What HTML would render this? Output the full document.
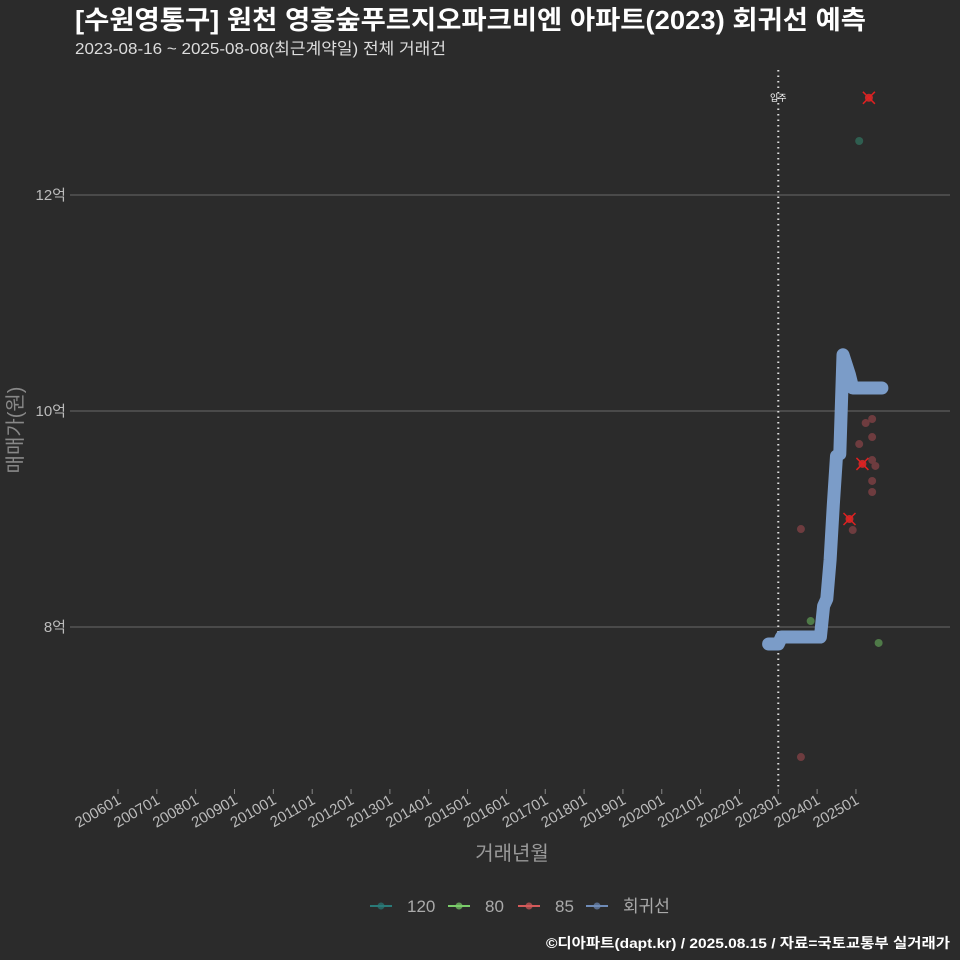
<!DOCTYPE html>
<html><head><meta charset="utf-8"><style>
body{margin:0;background:#2b2b2b;}
svg{display:block;font-family:"Liberation Sans","Noto Sans CJK KR",sans-serif;}
</style></head><body>
<svg id="chart" width="960" height="960" viewBox="0 0 960 960">
<rect width="960" height="960" fill="#2b2b2b"/>
<text x="75" y="29" fill="#fff" font-size="26" font-weight="bold" textLength="791" lengthAdjust="spacingAndGlyphs">[수원영통구] 원천 영흥숲푸르지오파크비엔 아파트(2023) 회귀선 예측</text>
<text x="75" y="54" fill="#ddd" font-size="16" textLength="371" lengthAdjust="spacingAndGlyphs">2023-08-16 ~ 2025-08-08(최근계약일) 전체 거래건</text>
<g id="grid"></g><g id="yaxis"></g><g id="xaxis"></g><g id="marks"></g>
<text transform="translate(22,430) rotate(-90)" text-anchor="middle" fill="#888" font-size="20">매매가(원)</text>
<text x="512" y="860" text-anchor="middle" fill="#999" font-size="20">거래년월</text>
<g id="legend"></g>
<text x="950" y="948" text-anchor="end" fill="#fff" font-size="14" font-weight="bold" textLength="404" lengthAdjust="spacingAndGlyphs">©디아파트(dapt.kr) / 2025.08.15 / 자료=국토교통부 실거래가</text>
</svg>
<script>
const yTicks=[80000,100000,120000];
const yTickLabels=["8억","10억","12억"];
const xTickYears=[2006,2007,2008,2009,2010,2011,2012,2013,2014,2015,2016,2017,2018,2019,2020,2021,2022,2023,2024,2025];
const moveInYm="2023-01";
const pts120Dates=["2025-02"];
const pts120Vals=[125000];
const pts80Dates=["2023-11","2025-08"];
const pts80Vals=[80550,78520];
const pts85Dates=["2023-08","2023-08","2024-12","2025-02","2025-04","2025-06","2025-06","2025-06","2025-07","2025-06","2025-06"];
const pts85Vals=[89070,67960,88980,96940,98890,99260,97590,95460,94910,93520,92500];
const cross85Dates=["2025-05","2025-03","2024-11"];
const cross85Vals=[129000,95100,90000];
const regDates=["2022-10","2023-01","2023-02","2024-02","2024-03","2024-04","2024-05","2024-06","2024-07","2024-08","2024-09","2024-10","2024-11","2024-12","2025-01","2025-09"];
const regVals=[78425,78425,79070,79070,81940,82600,86200,91300,95830,96020,105200,104260,103330,102130,102130,102130];

const NS="http://www.w3.org/2000/svg";
function el(t,a,p){const e=document.createElementNS(NS,t);for(const k in a)e.setAttribute(k,a[k]);document.getElementById(p).appendChild(e);return e;}
function xs(ym){const [y,m]=ym.split("-").map(Number);return 118+((y-2006)+(m-1)/12)*38.84;}
function ys(v){return 411-(v-100000)*0.0108;}

yTicks.forEach((v,i)=>{
 const g=el("line",{x1:70,x2:950,y1:ys(v),y2:ys(v),stroke:"#6a6a6a","stroke-width":1},"grid");
 
 
 const t=el("text",{x:66,y:ys(v)+5,"text-anchor":"end",fill:"#bbb","font-size":15},"yaxis");
 t.textContent=yTickLabels[i];
 
 
});
xTickYears.forEach(y=>{
 const x=xs(y+"-01");
 const tk=el("line",{x1:x,x2:x,y1:789,y2:794,stroke:"#888"},"xaxis");
 
 
 const t=el("text",{transform:`translate(${x+4},${803}) rotate(-30)`,"text-anchor":"end",fill:"#bbb","font-size":15},"xaxis");
 t.textContent=y+"01";
 
 
});
const mx=xs(moveInYm);
const vl=el("line",{x1:mx,x2:mx,y1:70,y2:790,stroke:"#ddd","stroke-width":2,"stroke-dasharray":"1.5 4"},"marks");


const vt=el("text",{x:mx,y:101,"text-anchor":"middle",fill:"#fff","font-size":9},"marks");
vt.textContent="입주";



let d=regDates.map((m,i)=>(i?"L":"M")+xs(m).toFixed(1)+","+ys(regVals[i]).toFixed(1)).join("");
const rl=el("path",{d:d,fill:"none",stroke:"#7b9cc8","stroke-width":13,"stroke-linecap":"round","stroke-linejoin":"round"},"marks");



function dots(ds,vs,col,name){ds.forEach((m,i)=>{
 const c=el("circle",{cx:xs(m),cy:ys(vs[i]),r:4,fill:col},"marks");
 
 
});}
dots(pts120Dates,pts120Vals,"#2f5e50","point-120");
dots(pts80Dates,pts80Vals,"#4f7a48","point-80");
dots(pts85Dates,pts85Vals,"#6e3c3f","point-85");
cross85Dates.forEach((m,i)=>{
 const x=xs(m),y=ys(cross85Vals[i]);
 const c=el("circle",{cx:x,cy:y,r:4,fill:"#c02a2a"},"marks");
 
 
 const p=el("path",{d:`M${x-6},${y-6}L${x+6},${y+6}M${x-6},${y+6}L${x+6},${y-6}`,stroke:"#e02020","stroke-width":1.5},"marks");
 
 
});
const leg=[["120","#2a7a78",370],["80","#7acc6a",448],["85","#d45a5a",518],["회귀선","#6f8cb8",586]];
leg.forEach(([lab,col,x])=>{
 const l=el("line",{x1:x,x2:x+22,y1:906,y2:906,stroke:col,"stroke-width":2},"legend");
 
 
 const c=el("circle",{cx:x+11,cy:906,r:3.5,fill:col,opacity:0.7},"legend");
 
 
 const t=el("text",{x:x+37,y:912,fill:"#aaa","font-size":17},"legend");
 t.textContent=lab;
 
 
});
</script>
</body></html>
